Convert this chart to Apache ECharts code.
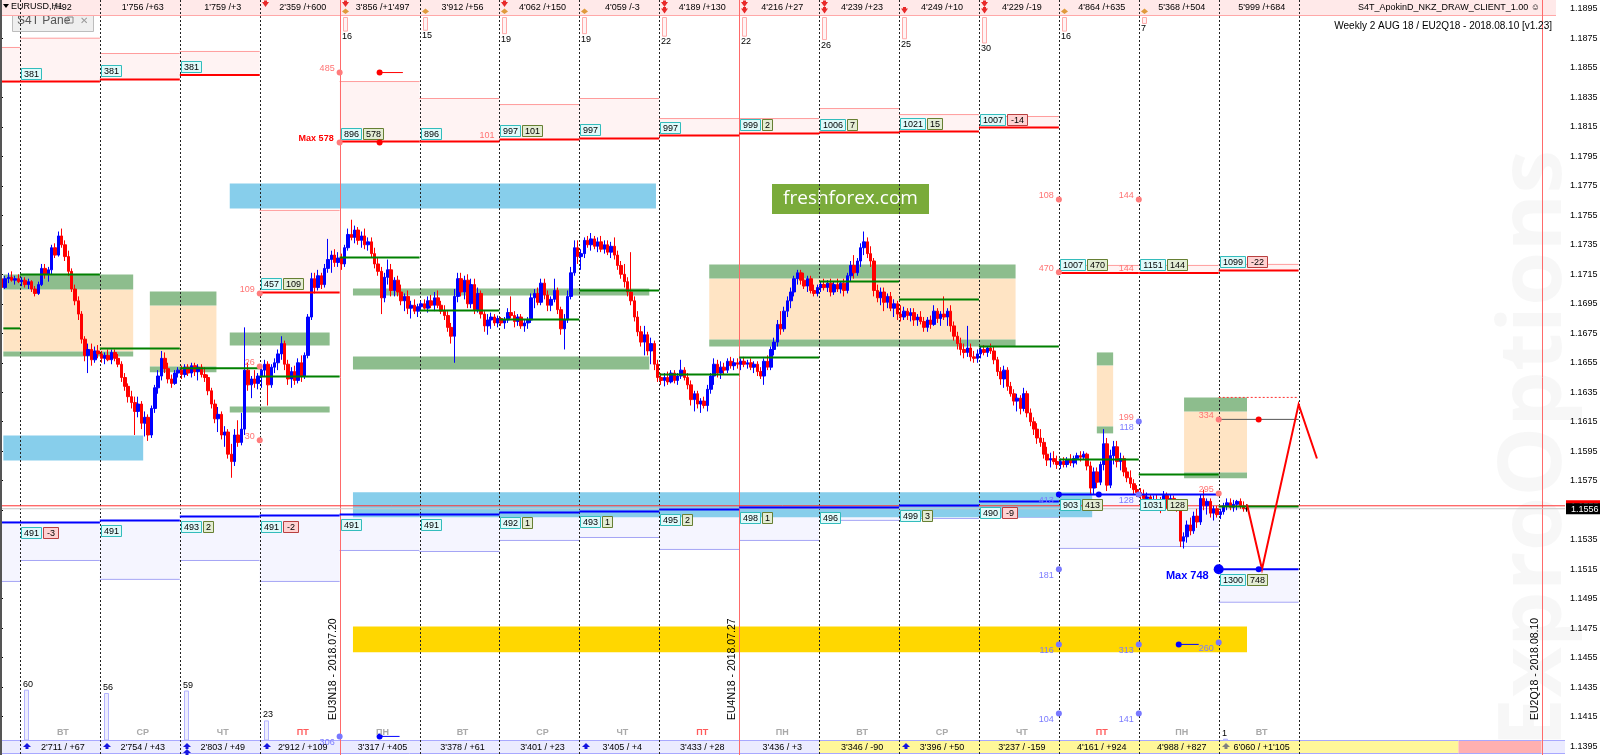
<!DOCTYPE html>
<html><head><meta charset="utf-8">
<script src="https://cdn.jsdelivr.net/npm/echarts@6/dist/echarts.min.js"></script>
<style>html,body{margin:0;padding:0;background:#fff}#c{width:1600px;height:755px}</style>
</head><body><div id="c"></div>
<script>
// ---------- DATA ----------
const BASE = 1.1;            // prices below are pips above 1.1000
const SLOTS = 470;           // H1 slots on the x axis
const firstOpen = 712;
const closes = [
706,712,713,711,712,710,711,708,710,705, 702,708,719,715,718,733,728,741,735,727,
717,705,697,688,671,660,664,657,663,661, 658,660,657,662,658,654,645,639,632,628,
622,627,614,618,606,624,638,646,658,651, 644,641,648,650,647,652,648,653,649,652,
647,645,636,627,617,620,606,608,593,588, 606,601,610,650,640,644,641,646,650,654,
640,652,655,661,668,654,644,649,643,655, 646,660,686,712,706,714,708,719,725,728,
723,726,722,733,742,740,745,738,741,735, 737,729,722,717,699,713,718,704,711,703,
697,700,692,694,690,693,695,692,697,694, 699,694,690,687,679,673,700,712,703,711,
695,708,691,702,688,680,684,686,682,685, 682,684,689,687,683,686,680,682,684,699,
702,696,709,701,694,698,704,691,678,684, 700,716,733,727,729,738,735,739,734,737,
732,735,730,734,728,721,715,710,703,697, 686,676,669,674,663,668,654,645,643,645,
642,648,643,646,650,645,640,630,634,627, 629,626,637,646,654,648,652,650,656,653,
655,654,656,654,655,652,654,649,646,656, 652,664,669,681,678,690,697,703,712,716,
711,707,712,704,702,706,708,706,709,703, 708,705,709,704,714,721,716,724,733,737,
729,724,704,699,703,696,700,692,695,688, 686,690,687,689,684,686,683,679,684,681,
690,685,688,686,690,680,673,668,664,662, 665,659,658,661,664,662,665,663,657,649,
644,650,639,634,629,631,624,634,621,615, 610,604,601,593,589,590,588,586,588,586,
589,587,590,592,591,593,585,570,581,574, 586,600,572,592,598,588,590,581,577,573,
569,567,565,563,564,559,562,560,557,565, 558,563,560,558,534,537,545,541,551,547,
563,558,561,553,556,552,554,558,560,557, 559,561,558,556,556];
const highs = [
716,714,716,717,714,715,713,713,712,711, 707,710,722,722,720,735,736,744,746,738,
731,719,708,700,690,673,668,668,666,667, 663,662,664,664,664,661,656,648,641,636,
632,632,629,622,620,626,640,650,663,662, 655,647,650,652,653,654,654,655,655,654,
654,652,647,638,630,625,622,612,610,600, 610,616,621,679,655,646,650,648,652,657,
656,654,658,664,673,670,657,652,653,658, 660,662,688,716,716,718,716,722,739,731,
732,730,729,735,746,752,748,747,744,746, 740,740,733,726,720,716,725,722,713,714,
708,702,704,697,698,695,697,698,700,701, 703,704,697,694,690,682,705,716,716,714,
715,712,712,706,704,690,688,689,688,687, 686,686,692,700,690,688,688,684,686,702,
705,706,712,712,704,700,712,706,693,688, 704,720,738,738,732,740,741,743,741,740,
741,738,738,737,740,731,724,722,713,730, 700,690,680,680,676,672,670,657,648,648,
649,650,650,648,657,652,648,643,636,636, 631,632,640,648,658,657,656,655,658,659,
658,658,658,659,657,658,656,656,652,658, 660,666,672,684,690,693,700,706,714,718,
718,716,714,714,708,708,710,712,711,712, 710,712,710,712,716,724,728,726,736,744,
740,734,726,708,706,706,702,703,698,697, 694,693,692,692,692,688,690,686,686,687,
694,692,690,700,692,694,683,676,672,668, 680,668,663,664,666,667,666,668,666,659,
652,653,652,642,637,634,633,638,636,624, 618,614,610,604,598,594,595,592,590,591,
591,593,592,594,595,595,594,588,584,584, 588,610,604,596,602,602,594,592,584,582,
576,572,570,569,567,566,565,566,564,568, 567,566,565,562,560,540,548,550,554,556,
566,569,563,563,558,558,556,560,563,563, 562,562,563,561,559];
const lows = [
700,705,709,710,708,709,707,706,705,703, 700,701,707,712,710,715,726,727,733,724,
714,703,694,684,668,656,648,653,655,658, 655,654,656,654,656,652,642,636,628,624,
606,618,610,605,602,604,621,634,643,648, 641,638,640,645,644,645,646,645,646,643,
645,642,633,624,614,608,603,598,590,577, 585,598,599,606,636,631,638,637,638,646,
626,638,648,650,657,650,640,638,640,641, 642,644,658,684,702,704,705,706,716,716,
720,720,718,720,731,738,736,735,733,732, 731,726,719,714,688,696,708,700,700,700,
694,690,688,685,688,686,690,691,689,692, 690,692,688,684,676,668,655,696,700,698,
692,692,688,689,685,676,674,678,680,679, 680,678,682,685,679,680,678,676,678,682,
692,694,694,698,690,690,696,688,674,664, 682,698,714,722,718,726,733,731,732,730,
730,729,728,726,725,718,712,706,700,694, 683,673,666,660,660,654,650,642,640,639,
640,641,641,640,644,643,637,626,622,624, 621,624,622,634,640,645,644,647,648,651,
650,651,650,652,651,650,648,646,644,640, 650,650,660,666,674,676,686,692,700,708,
708,705,703,702,700,700,703,704,703,700, 701,703,702,700,702,710,712,714,720,728,
726,720,700,696,694,690,692,690,686,684, 683,684,684,683,680,680,681,676,676,678,
680,682,680,684,680,676,670,664,660,658, 659,656,655,655,658,660,659,661,654,646,
640,638,636,632,626,622,620,622,618,612, 606,600,598,590,585,584,586,583,583,584,
584,585,584,586,588,589,582,566,566,570, 572,582,568,570,586,584,582,578,574,570,
566,564,562,560,558,556,555,557,553,555, 556,555,557,554,530,529,533,538,539,543,
545,555,552,550,548,550,549,552,555,555, 554,555,556,554,554];

const yTicks = [1.1395,1.1415,1.1435,1.1455,1.1475,1.1495,1.1515,1.1535,1.1555,1.1575,1.1595,1.1615,1.1635,
  1.1655,1.1675,1.1695,1.1715,1.1735,1.1755,1.1775,1.1795,1.1815,1.1835,1.1855,1.1875,1.1895];
const dayStarts = [6,30,54,78,102,126,150,174,198,222,246,270,294,318,342,366];
const dayNames  = ['ВТ','СР','ЧТ','ПТ','ПН','ВТ','СР','ЧТ','ПТ','ПН','ВТ','СР','ЧТ','ПТ','ПН','ВТ'];
const dashedLines = [6,30,54,78,126,150,174,198,246,270,294,318,342,366,390];
const solidLines = [102,222,463];
const expiryLabels = [[102,'EU3N18 - 2018.07.20'],[222,'EU4N18 - 2018.07.27'],[463,'EU2Q18 - 2018.08.10']];
const topStats = ["/+92","1'756 /+63","1'759 /+3","2'359 /+600","3'856 /+1'497","3'912 /+56","4'062 /+150","4'059 /-3",
  "4'189 /+130","4'216 /+27","4'239 /+23","4'249 /+10","4'229 /-19","4'864 /+635","5'368 /+504","5'999 /+684"];
const bottomStats = ["2'711 / +67","2'754 / +43","2'803 / +49","2'912 / +109","3'317 / +405","3'378 / +61","3'401 / +23",
  "3'405 / +4","3'433 / +28","3'436 / +3","3'346 / -90","3'396 / +50","3'237 / -159","4'161 / +924","4'988 / +827","6'060 / +1'105"];
const bottomSegments = [[0,246,'n'],[246,438,'y'],[438,463,'p'],[463,470,'n']];
const topBars = [[102,16],[126,15],[150,19],[174,19],[198,22],[222,22],[246,26],[270,25],[294,30],[318,16],[342,7]];
const bottomBars = [[6,60],[30,56],[54,59],[78,23],[366,1]];
const topMarks = [[78,'r-'],[102,'ro'],[126,'-o'],[150,'ro'],[174,'-o'],[198,'rr'],[222,'rr'],[246,'rr'],[270,'-r'],[294,'rr'],[318,'-o'],[342,'-o']];
const bottomMarks = [[6,'b'],[30,'b'],[54,'bb'],[78,'b'],[174,'b'],[270,'b'],[366,'g']];

// daily resistance levels: [from, to, level, zone top]
const redLevels = [
 [0,6,1.18457,1.18688],[6,30,1.18457,1.18751],[30,54,1.18471,1.18647],[54,78,1.18502,1.18661],
 [78,102,1.17027,1.17583],[102,126,1.1805,1.18457],[126,150,1.1805,1.18342],[150,174,1.18064,1.18301],
 [174,198,1.18071,1.18342],[198,222,1.18091,1.18206],[222,246,1.18105,1.18206],[246,270,1.18111,1.18274],
 [270,294,1.18118,1.18233],[294,318,1.18145,1.1822],[318,342,1.17159,1.1721],[342,366,1.17159,1.1721],[366,390,1.17176,1.17217]];
const redTags = [null,[381],[381],[381],[457,109],[896,578],[896],[997,101],[997],[997],[999,2],[1006,7],[1021,15],[1007,-14],[1007,470],[1151,144],[1099,-22]];
// daily support levels: [from, to, level, zone bottom]
const blueLevels = [
 [0,6,1.15467,1.15067],[6,30,1.15467,1.15209],[30,54,1.15481,1.15081],[54,78,1.15508,1.15209],
 [78,102,1.15514,1.15067],[102,126,1.15521,1.15277],[126,150,1.15521,1.1527],[150,174,1.15535,1.15345],
 [174,198,1.15542,1.15365],[198,222,1.15555,1.15284],[222,246,1.15569,1.15345],[246,270,1.15569,1.15481],
 [270,294,1.15582,1.15494],[294,318,1.15609,1.15502],[318,342,1.15657,1.15291],[342,366,1.15657,1.15304],[366,390,1.1515,1.14926]];
const blueTags = [null,[491,-3],[491],[493,2],[491,-2],[491],[491],[492,1],[493,1],[495,2],[498,1],[496],[499,3],[490,-9],[903,413],[1031,128],[1300,748]];
const greenLevels = [[1,6,1.16783],[6,30,1.17149],[30,54,1.16647],[54,78,1.16512],[78,102,1.16457],[102,126,1.17264],
 [126,150,1.16905],[150,174,1.16844],[174,198,1.1704],[198,222,1.16471],[222,246,1.16586],[246,270,1.17101],
 [270,294,1.16979],[294,318,1.16661],[318,342,1.15894],[342,366,1.15793],[366,390,1.15576]];
const greenBands = [[1,40,1.17149,1.17047],[1,40,1.16627,1.16593],[45,65,1.17034,1.16939],[45,65,1.16525,1.16485],
 [69,99,1.16755,1.16667],[69,99,1.16254,1.16213],[106,195,1.17054,1.17006],[106,195,1.16593,1.16505],
 [213,305,1.17217,1.17122],[213,305,1.16708,1.16661],[329.4,334.3,1.1662,1.16532],[329.4,334.3,1.16118,1.16071],
 [355.6,374.5,1.16315,1.1622],[355.6,374.5,1.15806,1.15766]];
const orangeBands = [[1,40,1.17047,1.16627],[45,65,1.16939,1.16525],[213,305,1.17122,1.16708],[329.4,334.3,1.16532,1.16118],[355.6,374.5,1.1622,1.15806]];
const blueBoxes = [[69,197,1.17765,1.17596],[1,43,1.16057,1.15887],[106,328,1.15671,1.15502]];
const yellowBoxes = [[106,374.5,1.14762,1.14586]];
const redDots = [[102,1.18518,'485',1],[114,1.18518,'',2],[102,1.18044,'',1],[114,1.18044,'',2],[150,1.18064,'101',0],
 [78,1.1702,'109',1],[78,1.16525,'26',1],[78,1.16024,'30',1],[318,1.17657,'108',1],[342,1.17657,'144',1],
 [318,1.17163,'470',1],[342,1.17163,'144',0],[342,1.16152,'199',0],[366,1.16166,'334',1],[378,1.16166,'',2],[366,1.15664,'295',1]];
const blueDots = [[318,1.15657,'413',3],[330,1.15657,'',3],[342,1.15657,'128',1],[342,1.16152,'118',1],[318,1.1515,'181',1],
 [366,1.1515,'',2],[378,1.1515,'',3],[318,1.1464,'116',1],[342,1.1464,'313',1],[354,1.1464,'',3],[366,1.14653,'260',1],
 [318,1.14172,'104',1],[342,1.14172,'141',1],[102,1.14016,'306',1],[114,1.14016,'',3]];
const redSegments = [[114,121,1.18518]];
const blueSegments = [[114,120,1.14016],[354,360,1.1464]];
const grayTargets = [[366,390,1.16166]];
const dashedTargets = [[366,390,1.16315]];
const maxLabels = [[102,1.18044,'Max 578','r'],[366,1.1515,'Max 748','b']];
const projection = [[374.5,1.15589],[379,1.1515],[390,1.16268],[395.5,1.15901]];
const askPrice = 1.1558, bidPrice = 1.1556;

// ---------- RENDER ----------
const FF = '"Liberation Sans", Arial, sans-serif';
const P = v => +(BASE + v / 10000).toFixed(4);
const candles = closes.map((c, i) => [P(i ? closes[i - 1] : firstOpen), P(c), P(lows[i]), P(highs[i])]);
const slotNames = Array.from({length: SLOTS}, (_, i) => String(i));

const T = (x, y, text, o) => ({type:'text', style:Object.assign({x, y, text, fill:'#000', font:'9px ' + FF, align:'center', verticalAlign:'middle'}, o || {})});
const Rc = (x1, y1, x2, y2, style) => ({type:'rect', shape:{x:Math.min(x1,x2), y:Math.min(y1,y2), width:Math.abs(x2-x1), height:Math.abs(y2-y1)}, style});
const Ln = (x1, y1, x2, y2, style) => ({type:'line', shape:{x1, y1, x2, y2}, style});
const Dt = (x, y, r, fill) => ({type:'circle', shape:{cx:x, cy:y, r}, style:{fill}});
const Pg = (pts, fill) => ({type:'polygon', shape:{points:pts}, style:{fill}});

function layer(items, z, draw) {
  return {type:'custom', coordinateSystem:'cartesian2d', xAxisIndex:1, yAxisIndex:0, z, silent:true, clip:false, animation:false,
    data: items.map(() => [1, 1.16]),
    renderItem: (params, api) => {
      const X = s => api.coord([s, 1.16])[0];
      const Y = p => api.coord([1, p])[1];
      return {type:'group', children: draw(items[params.dataIndex], X, Y, params.coordSys, params.dataIndex)};
    }};
}

function tagBoxes(x, yLine, tags, above) {
  const ch = []; let cx = Math.round(x) + 1; const h = 11;
  const y0 = Math.round(above ? yLine - 14 : yLine + 5);
  tags.forEach((t, k) => {
    const s = String(t); const w = s.length * 5 + 5;
    let fill, stroke;
    if (k === 0) { fill = '#dffafa'; stroke = '#33bcbc'; }
    else if (t < 0) { fill = '#ffd2d2'; stroke = '#b84040'; }
    else { fill = '#e3ecd3'; stroke = '#667f33'; }
    ch.push(Rc(cx + 0.5, y0 + 0.5, cx + w + 0.5, y0 + h + 0.5, {fill, stroke, lineWidth:1}));
    ch.push(T(cx + w / 2 + 0.5, y0 + h / 2 + 1, s, {font:'9px ' + FF}));
    cx += w + 2;
  });
  return ch;
}

const series = [
  // top strip
  layer([0], 1, (d, X, Y, cs) => [Rc(cs.x, 0, cs.x + cs.width - 9, 15, {fill:'#ffe9e9'}), Ln(cs.x, 15.5, cs.x + cs.width - 9, 15.5, {stroke:'#ffa8a8', lineWidth:1})]),
  // bottom strip
  layer(bottomSegments, 1, (d, X, Y, cs) => {
    const fill = d[2] === 'y' ? '#fff799' : d[2] === 'p' ? '#ffb0b0' : '#ebebff';
    const b = cs.y + cs.height;
    return [Rc(X(d[0]), b - 14, X(d[1]), b - 1, {fill}), Ln(X(d[0]), b - 14.5, X(d[1]), b - 14.5, {stroke:'#a8a8ff'}), Ln(X(d[0]), b - 1.5, X(d[1]), b - 1.5, {stroke:'#a8a8ff'})];
  }),
  // resistance zones
  layer(redLevels, 2, (d, X, Y) => [Rc(X(d[0]), Y(d[3]), X(d[1]), Y(d[2]), {fill:'#fff3f3'}), Ln(X(d[0]), Y(d[3]), X(d[1]), Y(d[3]), {stroke:'#ff9c9c', lineWidth:1})]),
  // support zones
  layer(blueLevels, 2, (d, X, Y) => [Rc(X(d[0]), Y(d[2]), X(d[1]), Y(d[3]), {fill:'#f5f5ff'}), Ln(X(d[0]), Y(d[3]), X(d[1]), Y(d[3]), {stroke:'#a5a5f5', lineWidth:1})]),
  layer(orangeBands, 2, (d, X, Y) => [Rc(X(d[0]), Y(d[2]), X(d[1]), Y(d[3]), {fill:'#ffe4c4'})]),
  layer(greenBands, 2, (d, X, Y) => [Rc(X(d[0]), Y(d[2]), X(d[1]), Y(d[3]), {fill:'#8dbd8d'})]),
  layer(blueBoxes, 2, (d, X, Y) => [Rc(X(d[0]), Y(d[2]), X(d[1]), Y(d[3]), {fill:'#87ceeb'})]),
  layer(yellowBoxes, 2, (d, X, Y) => [Rc(X(d[0]), Y(d[2]), X(d[1]), Y(d[3]), {fill:'#ffd700'})]),
  // day separators
  layer(dashedLines, 3, (s, X, Y, cs) => { const x = Math.round(X(s)) + 0.5; return [Ln(x, cs.y, x, cs.y + cs.height, {stroke:'#222', lineWidth:1, lineDash:[2,2]})]; }),
  layer(solidLines, 3, (s, X, Y, cs) => { const x = Math.round(X(s)) + 0.5; return [Ln(x, cs.y, x, cs.y + cs.height, {stroke:'#ff6a6a', lineWidth:1})]; }),
  // price lines
  layer([[askPrice, '#ff3030'], [bidPrice, '#c8c8c8']], 4, (d, X, Y, cs) => [Ln(cs.x, Y(d[0]), cs.x + cs.width, Y(d[0]), {stroke:d[1], lineWidth:1})]),
  // candles
  {type:'candlestick', xAxisIndex:0, yAxisIndex:0, data:candles, barWidth:3, z:5, silent:true, animation:false,
    itemStyle:{color:'#0000ff', color0:'#ff0000', borderColor:'#0000ff', borderColor0:'#ff0000', borderColorDoji:'#000000', borderWidth:1}},
  // level lines
  layer(redLevels, 6, (d, X, Y) => [Ln(X(d[0]), Y(d[2]), X(d[1]), Y(d[2]), {stroke:'#ff0000', lineWidth:2})]),
  layer(blueLevels, 6, (d, X, Y) => [Ln(X(d[0]), Y(d[2]), X(d[1]), Y(d[2]), {stroke:'#0000ff', lineWidth:2})]),
  layer(greenLevels, 6, (d, X, Y) => [Ln(X(d[0]), Y(d[2]), X(d[1]), Y(d[2]), {stroke:'#008000', lineWidth:2})]),
  layer(redSegments, 6, (d, X, Y) => [Ln(X(d[0]), Y(d[2]), X(d[1]), Y(d[2]), {stroke:'#ff0000', lineWidth:1})]),
  layer(blueSegments, 6, (d, X, Y) => [Ln(X(d[0]), Y(d[2]), X(d[1]), Y(d[2]), {stroke:'#0000ff', lineWidth:1})]),
  layer(grayTargets, 6, (d, X, Y) => [Ln(X(d[0]), Y(d[2]), X(d[1]), Y(d[2]), {stroke:'#555', lineWidth:1})]),
  layer(dashedTargets, 6, (d, X, Y) => [Ln(X(d[0]), Y(d[2]), X(d[1]), Y(d[2]), {stroke:'#ff3030', lineWidth:1, lineDash:[2,2]})]),
  layer([projection], 7, (pts, X, Y) => [{type:'polyline', shape:{points:pts.map(p => [X(p[0]), Y(p[1])])}, style:{stroke:'#ff0000', lineWidth:2, fill:null}}]),
  // tags
  layer(redLevels, 8, (d, X, Y, cs, i) => redTags[i] ? tagBoxes(X(d[0]), Y(d[2]), redTags[i], true) : []),
  layer(blueLevels, 8, (d, X, Y, cs, i) => blueTags[i] ? tagBoxes(X(d[0]), Y(d[2]), blueTags[i], false) : []),
  // dots and numbers
  layer(redDots, 8, (d, X, Y) => {
    const x = X(d[0]), y = Y(d[1]); const ch = [];
    if (d[3]) ch.push(Dt(x, y, 3, d[3] === 2 ? '#ff0000' : '#ff7c7c'));
    if (d[2]) ch.push(T(x - 5, y - 4, d[2], {align:'right', fill:'#ff7373'}));
    return ch;
  }),
  layer(blueDots, 8, (d, X, Y) => {
    const x = X(d[0]), y = Y(d[1]); const ch = [];
    if (d[3]) ch.push(Dt(x, y, d[3] === 2 ? 5 : 3, d[3] === 1 ? '#7878ff' : '#0000ff'));
    if (d[2]) ch.push(T(x - 5, y + 6, d[2], {align:'right', fill:'#7b7bff'}));
    return ch;
  }),
  layer(maxLabels, 8, (d, X, Y) => d[3] === 'r'
      ? [T(X(d[0]) - 6, Y(d[1]) - 4, d[2], {align:'right', fill:'#ff0000', font:'bold 9px ' + FF})]
      : [T(X(d[0]) - 10, Y(d[1]) + 7, d[2], {align:'right', fill:'#0000ff', font:'bold 11px ' + FF})]),
  // strip texts
  layer(dayStarts, 8, (s, X, Y, cs, i) => {
    const b = cs.y + cs.height; const cx = (X(s) + X(s + 24)) / 2 + 3;
    return [
      T(cx, 8, topStats[i]),
      T(cx, b - 22, dayNames[i], {font:'bold 9px ' + FF, fill: dayNames[i] === 'ПТ' ? '#ff5a5a' : '#a9a9a9'}),
      T(cx, b - 7, bottomStats[i])
    ];
  }),
  layer(topBars, 8, (d, X) => { const x = Math.round(X(d[0])); const h = d[1] * 0.85;
    return [Rc(x + 3.5, 17.5, x + 7.5, 17.5 + h, {fill:'#fff4f4', stroke:'#ffaaaa', lineWidth:1}), T(x + 2, 17 + h + 6, String(d[1]), {align:'left'})]; }),
  layer(bottomBars, 8, (d, X, Y, cs) => { const x = Math.round(X(d[0])); const b = cs.y + cs.height - 15; const h = d[1] * 0.83;
    return [Rc(x + 4.5, b - h, x + 8.5, b, {fill:'#eeeeff', stroke:'#b4b4ff', lineWidth:1}), T(x + 3, b - h - 6, String(d[1]), {align:'left'})]; }),
  layer(topMarks, 8, (d, X) => { const x = Math.round(X(d[0])) + 2; const ch = [];
    [0, 1].forEach(k => { const c = d[1][k]; const y = 2 + k * 6.5;
      if (c === 'r') ch.push(Pg([[x, y], [x + 7, y], [x + 3.5, y + 5]], '#e82828'), Rc(x + 2, y - 1.5, x + 5, y + 0.5, {fill:'#e82828'}));
      if (c === 'o') ch.push(Pg([[x + 3.5, y], [x + 7, y + 3], [x + 3.5, y + 5.5], [x, y + 3]], '#e09a3c'));
    }); return ch; }),
  layer(bottomMarks, 8, (d, X, Y, cs) => { const x = Math.round(X(d[0])) + 3; const b = cs.y + cs.height; const ch = [];
    const col = d[1][0] === 'g' ? '#808080' : '#1414e0';
    for (let k = 0; k < d[1].length; k++) { const y = b - 12 + k * 6; ch.push(Pg([[x, y + 4], [x + 4, y], [x + 8, y + 4]], col), Rc(x + 2.5, y + 3.5, x + 5.5, y + 6, {fill:col})); }
    return ch; }),
  layer(expiryLabels, 8, (d, X, Y, cs) => [{type:'text', x: Math.round(X(d[0])) - 1, y: cs.y + cs.height - 35, rotation: Math.PI / 2,
      style:{x:0, y:0, text:d[1], fill:'#000', font:'10.5px ' + FF, align:'left', verticalAlign:'bottom'}}]),
  // axis price boxes
  layer([[askPrice, '#ff0000'], [bidPrice, '#000000']], 9, (d, X, Y, cs) => {
    const x = cs.x + cs.width + 1, y = Y(d[0]);
    return [Rc(x, y - 5.5, x + 34, y + 5.5, {fill:d[1]}), T(x + 5, y + 0.5, d[0].toFixed(4), {align:'left', fill:'#fff'})];
  })
];

const option = {
  animation:false,
  backgroundColor:'#ffffff',
  grid:{left:0, right:35, top:0, bottom:0, containLabel:false, outerBoundsMode:'none'},
  xAxis:[{type:'category', data:slotNames, show:false, boundaryGap:true},
         {type:'value', min:0, max:SLOTS, show:false}],
  yAxis:{type:'value', position:'right', min:1.1389, max:1.1901,
    axisLine:{show:true, lineStyle:{color:'#000', width:1}},
    axisTick:{show:true, length:3, lineStyle:{color:'#000'}, customValues:yTicks},
    axisLabel:{show:true, customValues:yTicks, formatter:v => v.toFixed(4), color:'#000', fontSize:9, fontFamily:'Liberation Sans', margin:5},
    splitLine:{show:false}},
  series,
  graphic:[
    {type:'text', left:1492, top:150, rotation:Math.PI / 2, silent:true, z:0,
      style:{text:'ExproOptions', fill:'rgba(0,0,0,0.03)', font:'bold 88px "Open Sans", sans-serif'}},
    {type:'rect', left:0, top:0, shape:{width:2, height:755}, style:{fill:'#555'}, zlevel:1},
    {type:'polygon', shape:{points:[[3,4],[9,4],[6,8]]}, style:{fill:'#000'}, zlevel:1},
    {type:'text', left:11, top:2, style:{text:'EURUSD,H1', fill:'#000', font:'9px ' + FF}, zlevel:1},
    {type:'group', left:12, top:10, zlevel:1, children:[
      {type:'rect', shape:{x:0.5, y:0.5, width:81, height:21}, style:{fill:'#efefef', stroke:'#bdbdbd', lineWidth:1}},
      {type:'text', x:5, y:11, style:{text:'S4T Pane', fill:'#555', font:'12px ' + FF, verticalAlign:'middle'}},
      {type:'rect', shape:{x:55, y:7, width:6, height:6}, style:{fill:'none', stroke:'#888', lineWidth:1}},
      {type:'text', x:68, y:11, style:{text:'✕', fill:'#999', font:'bold 10px "DejaVu Sans"', verticalAlign:'middle'}}
    ]},
    {type:'group', left:772, top:184, zlevel:1, children:[
      {type:'rect', shape:{x:0, y:0, width:157, height:30}, style:{fill:'#7aab3a'}},
      {type:'text', x:78.5, y:15, style:{text:'freshforex.com', fill:'#fff', font:'19px "Open Sans", sans-serif', align:'center', verticalAlign:'middle'}}
    ]},
    {type:'text', right:60, top:3, style:{text:'S4T_ApokinD_NKZ_DRAW_CLIENT_1.00 ☺', fill:'#000', font:'9px ' + FF}, zlevel:1},
    {type:'text', right:48, top:21, style:{text:'Weekly 2 AUG 18 / EU2Q18 - 2018.08.10 [v1.23]', fill:'#000', font:'10px ' + FF}, zlevel:1}
  ]
};
const chart = echarts.init(document.getElementById('c'));
chart.setOption(option);
</script></body></html>
